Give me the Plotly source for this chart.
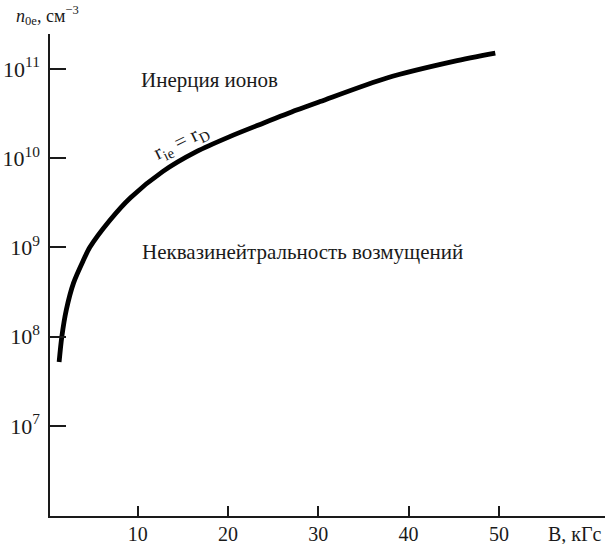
import plotly.graph_objects as go

# Data
B_kGs = [1.3, 1.6, 2.1, 2.9, 4.0, 4.7, 6.9, 9.2, 12.8, 16.5, 20.2, 23.9, 27.6, 30.2, 37.6, 45.0, 49.6]
n0e = [5.2e7, 1.0e8, 2.0e8, 4.0e8, 7.2e8, 1.0e9, 2.0e9, 3.6e9, 7.1e9, 1.18e10, 1.74e10,
       2.46e10, 3.45e10, 4.3e10, 7.9e10, 1.21e11, 1.5e11]

x_tickvals = [10, 20, 30, 40, 50]
y_tickvals = [1e7, 1e8, 1e9, 1e10, 1e11]
y_ticktext = ["10<sup>7</sup>", "10<sup>8</sup>", "10<sup>9</sup>", "10<sup>10</sup>", "10<sup>11</sup>"]

FONT = "Liberation Serif"
INK = "#1a1a1a"

fig = go.Figure()
fig.add_trace(go.Scatter(
    x=B_kGs, y=n0e, mode="lines",
    line=dict(color="black", width=4.8, shape="spline", smoothing=0.8),
    hoverinfo="skip", showlegend=False,
))

fig.update_layout(
    width=605, height=544,
    margin=dict(l=50, r=0, t=34, b=28, autoexpand=False),
    paper_bgcolor="white", plot_bgcolor="white",
    font=dict(family=FONT, color=INK),
    showlegend=False,
    xaxis=dict(
        range=[0.29, 61.75], showgrid=False, zeroline=False, automargin=False,
        showline=True, linecolor=INK, linewidth=1.5,
        ticks="inside", ticklen=10, tickwidth=1.5, tickcolor=INK,
        tickvals=x_tickvals, ticktext=[str(v) for v in x_tickvals],
        tickfont=dict(family=FONT, size=20, color=INK),
        ticklabelstandoff=-1,
    ),
    yaxis=dict(
        type="log", range=[5.99, 11.39], showgrid=False, zeroline=False, automargin=False,
        showline=True, linecolor=INK, linewidth=1.5,
        ticks="inside", ticklen=16, tickwidth=1.5, tickcolor=INK,
        tickvals=y_tickvals, ticktext=y_ticktext,
        tickfont=dict(family=FONT, size=22, color=INK),
        ticklabelstandoff=4,
    ),
)

annotations = [
    dict(text="<i>n</i><sub>0e</sub>, см<sup>−3</sup>", xref="paper", yref="paper",
         x=-0.065, y=1.0, xanchor="left", yanchor="bottom", yshift=4,
         showarrow=False, font=dict(family=FONT, size=18, color=INK)),
    dict(text="B, кГс", xref="paper", yref="paper",
         x=1.0, y=0.0, xanchor="right", yanchor="top", yshift=-5, xshift=-1,
         showarrow=False, font=dict(family=FONT, size=20, color=INK)),
    dict(text="Инерция ионов", xref="x", yref="y",
         x=10.1, y=10.87, xanchor="left", yanchor="middle",
         showarrow=False, font=dict(family=FONT, size=21, color=INK)),
    dict(text="Неквазинейтральность возмущений", xref="x", yref="y",
         x=10.3, y=8.95, xanchor="left", yanchor="middle",
         showarrow=False, font=dict(family=FONT, size=21, color=INK)),
    dict(text="r<sub>ie</sub> = r<sub>D</sub>", xref="x", yref="y",
         x=14.9, y=10.14, xanchor="center", yanchor="middle", textangle=-26,
         yshift=4, xshift=-1,
         showarrow=False, font=dict(family=FONT, size=21, color=INK)),
]
fig.update_layout(annotations=annotations)

fig.write_html("out.html", config={"displayModeBar": False},
               post_script="document.body.style.margin='0px';")
